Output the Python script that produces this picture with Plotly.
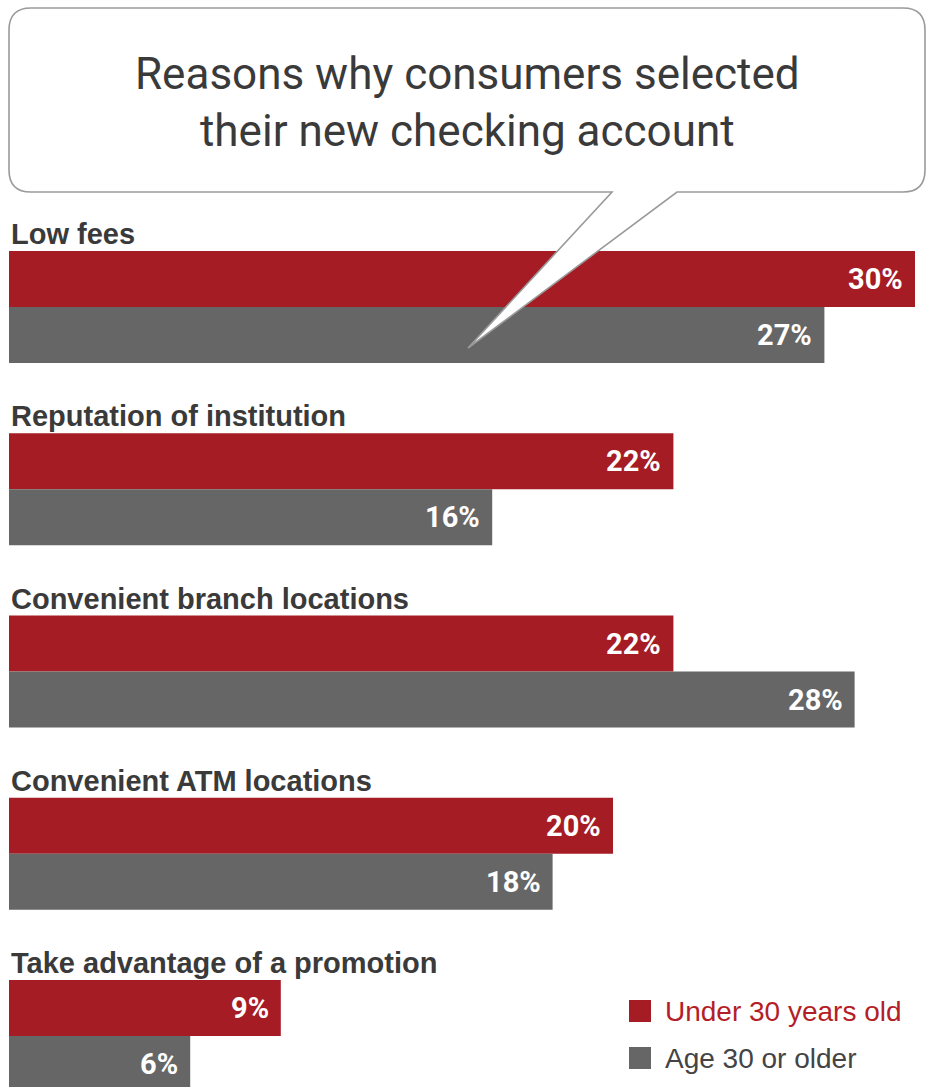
import plotly.graph_objects as go

# ---- data -------------------------------------------------------------
categories = [
    "Low fees",
    "Reputation of institution",
    "Convenient branch locations",
    "Convenient ATM locations",
    "Take advantage of a promotion",
]
under_30 = [30, 22, 22, 20, 9]
age_30_plus = [27, 16, 28, 18, 6]
series_names = ["Under 30 years old", "Age 30 or older"]
title_lines = ["Reasons why consumers selected", "their new checking account"]

# ---- styling / geometry (pixels) --------------------------------------
W, H = 926, 1087
RED = "#A51C24"
GRAY = "#666666"
LEGEND_RED = "#B41E28"
TEXT_DARK = "#3a3a3a"
NARROW = "Roboto, Liberation Sans, sans-serif"
SANS = "Liberation Sans, Arial, sans-serif"

X0 = 9              # left edge of the bars
PX_PER_PCT = 30.2   # horizontal scale
ROW0 = 307          # boundary between the two bars of the first row
ROW_PITCH = 182.25  # distance between rows
BAR_H = 56          # height of one bar

bar_w = BAR_H / ROW_PITCH
x_range = [-X0 / PX_PER_PCT, (W - X0) / PX_PER_PCT]
y_range = [(H - ROW0) / ROW_PITCH, -ROW0 / ROW_PITCH]  # reversed: first row on top
rows = list(range(len(categories)))


def px(x):
    return x / W


def py(y):
    return 1 - y / H


fig = go.Figure()
fig.add_trace(go.Bar(
    y=rows, x=under_30, orientation="h", name=series_names[0],
    width=bar_w, offset=-bar_w, marker=dict(color=RED, line=dict(width=0)),
    showlegend=False, hoverinfo="x",
))
fig.add_trace(go.Bar(
    y=rows, x=age_30_plus, orientation="h", name=series_names[1],
    width=bar_w, offset=0, marker=dict(color=GRAY, line=dict(width=0)),
    showlegend=False, hoverinfo="x",
))

annotations = []
# value labels inside the bar ends
for k, (a, b) in enumerate(zip(under_30, age_30_plus)):
    for v, yc in ((a, k - bar_w / 2), (b, k + bar_w / 2)):
        annotations.append(dict(
            x=v, y=yc, xref="x", yref="y", text=f"{v}%", showarrow=False,
            xanchor="right", yanchor="middle", xshift=-10,
            font=dict(family=NARROW, size=29, color="white", weight="bold"),
        ))
# category labels above each pair of bars
for k, name in enumerate(categories):
    annotations.append(dict(
        x=0, y=k - bar_w - 17 / ROW_PITCH, xref="x", yref="y", text=name,
        showarrow=False, xanchor="left", yanchor="middle",
        font=dict(family=SANS, size=29, color=TEXT_DARK, weight="bold"),
    ))
# title inside the speech bubble
annotations.append(dict(
    x=px(467), y=py(102), xref="paper", yref="paper",
    text="<br>".join(title_lines), showarrow=False,
    xanchor="center", yanchor="middle", align="center",
    font=dict(family=NARROW, size=44, color=TEXT_DARK),
))

# legend
shapes = []
legend_items = [(series_names[0], RED, LEGEND_RED, 1011), (series_names[1], GRAY, "#444444", 1058)]
for label, swatch, tcolor, yc in legend_items:
    shapes.append(dict(
        type="rect", xref="paper", yref="paper",
        x0=px(629), x1=px(651), y0=py(yc - 11), y1=py(yc + 11),
        fillcolor=swatch, line=dict(width=0),
    ))
    annotations.append(dict(
        x=px(663), y=py(yc), xref="paper", yref="paper", text=label,
        showarrow=False, xanchor="left", yanchor="middle",
        font=dict(family=SANS, size=28, color=tcolor),
    ))

# speech bubble with its pointer
L, T, R, B, r = 9, 8, 925, 192, 22
tail_right, tail_left, tip = 677, 612, (468, 348)
pts = [
    ("M", L + r, T), ("L", R - r, T), ("Q", R, T, R, T + r), ("L", R, B - r),
    ("Q", R, B, R - r, B), ("L", tail_right, B), ("L", tip[0], tip[1]),
    ("L", tail_left, B), ("L", L + r, B), ("Q", L, B, L, B - r),
    ("L", L, T + r), ("Q", L, T, L + r, T),
]
path = ""
for cmd, *c in pts:
    coords = []
    for i in range(0, len(c), 2):
        coords.append(f"{px(c[i]):.5f},{py(c[i + 1]):.5f}")
    path += cmd + " ".join(coords) + " "
path += "Z"
shapes.append(dict(
    type="path", path=path, xref="paper", yref="paper", layer="above",
    fillcolor="white", line=dict(color="#9a9a9a", width=1.6),
))

fig.update_layout(
    width=W, height=H, margin=dict(l=0, r=0, t=0, b=0, pad=0),
    paper_bgcolor="white", plot_bgcolor="white", barmode="overlay",
    xaxis=dict(range=x_range, visible=False, fixedrange=True),
    yaxis=dict(range=y_range, visible=False, fixedrange=True),
    annotations=annotations, shapes=shapes,
)

fig.write_html("out.html", config={"displayModeBar": False})
